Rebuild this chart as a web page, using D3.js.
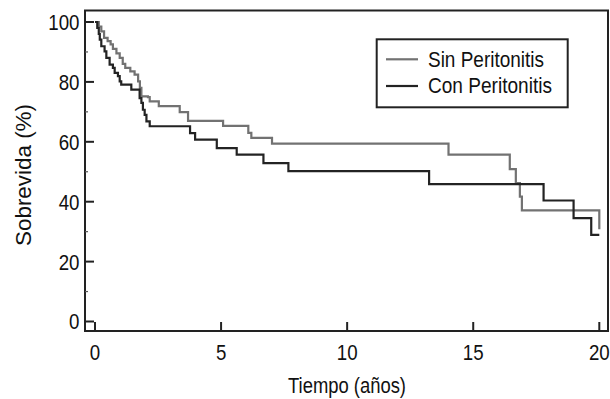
<!DOCTYPE html>
<html>
<head>
<meta charset="utf-8">
<script src="https://cdn.jsdelivr.net/npm/d3@7"></script>
<style>
  body { margin: 0; background: #fff; }
  text { font-family: "Liberation Sans Narrow", "Arial Narrow", "Liberation Sans", sans-serif; fill: #111; }
</style>
</head>
<body>
<div id="chart"></div>
<script>
// Kaplan-Meier steps (time in years, survival %)
const sinTimes = [0, 0.15, 0.25, 0.36, 0.5, 0.62, 0.71, 0.85, 0.98, 1.1, 1.2, 1.4, 1.57, 1.71, 1.78, 1.84, 2.1, 2.17, 2.53, 3.36, 3.69, 5.08, 6.08, 6.2, 7.02, 14.02, 16.45, 16.69, 16.85, 16.93, 20.0];
const sinSurv  = [100, 98.5, 96.9, 94.7, 93.6, 92.5, 91, 89.5, 88, 86, 84.7, 83.5, 82.4, 80.2, 78, 75.2, 74.9, 73.5, 71.9, 69.9, 67, 65.3, 63, 61.3, 59.4, 55.7, 50.9, 46.2, 41.7, 37.1, 30.8];
const conTimes = [0, 0.09, 0.15, 0.19, 0.25, 0.38, 0.45, 0.58, 0.71, 0.78, 0.91, 0.98, 1.04, 1.44, 1.77, 1.84, 1.9, 1.97, 2.04, 2.17, 3.77, 3.97, 4.83, 5.62, 6.68, 7.67, 13.25, 17.79, 18.98, 19.68, 20.0];
const conSurv  = [100, 98, 96, 94.1, 91.9, 90.2, 88, 85.8, 84.7, 83, 81.9, 80.2, 79.1, 77.4, 74.6, 73, 70.7, 69, 66.8, 65.2, 62.9, 60.7, 57.9, 55.7, 52.9, 50.2, 45.9, 40.4, 34.5, 28.9, 28.9];

const seriesNames = ['Sin Peritonitis', 'Con Peritonitis'];
const seriesColors = ['#727272', '#232323'];
const xTicks = [0, 5, 10, 15, 20];
const yTicks = [0, 20, 40, 60, 80, 100];
const yMinorTicks = [10, 30, 50, 70, 90];

const width = 610, height = 399;
const frame = { left: 85, right: 608, top: 10.5, bottom: 331 };
const squeeze = 0.85; // the original font is a narrow sans

const svg = d3.select('#chart').append('svg')
    .attr('width', width)
    .attr('height', height);

const x = d3.scaleLinear().domain([0, 20]).range([95, 599.3]);
const y = d3.scaleLinear().domain([0, 100]).range([321.5, 22]);

const toPoints = (ts, vs) => ts.map((t, i) => ({ t: t, v: vs[i] }));
const series = [toPoints(sinTimes, sinSurv), toPoints(conTimes, conSurv)];

const line = d3.line()
    .x(d => x(d.t))
    .y(d => y(d.v))
    .curve(d3.curveStepAfter);

svg.selectAll('.km')
    .data(series)
    .enter()
    .append('path')
    .attr('class', 'km')
    .attr('d', line)
    .attr('fill', 'none')
    .attr('stroke', (d, i) => seriesColors[i])
    .attr('stroke-width', 2.2);

// frame
svg.append('rect')
    .attr('x', frame.left)
    .attr('y', frame.top)
    .attr('width', frame.right - frame.left)
    .attr('height', frame.bottom - frame.top)
    .attr('fill', 'none')
    .attr('stroke', '#222')
    .attr('stroke-width', 2);

// ticks point inward
svg.selectAll('.ytick')
    .data(yTicks)
    .enter()
    .append('line')
    .attr('x1', frame.left).attr('x2', frame.left + 9)
    .attr('y1', d => y(d)).attr('y2', d => y(d))
    .attr('stroke', '#222').attr('stroke-width', 2);

svg.selectAll('.yminor')
    .data(yMinorTicks)
    .enter()
    .append('line')
    .attr('x1', frame.left).attr('x2', frame.left + 3)
    .attr('y1', d => y(d)).attr('y2', d => y(d))
    .attr('stroke', '#555').attr('stroke-width', 1.2);

svg.selectAll('.xtick')
    .data(xTicks)
    .enter()
    .append('line')
    .attr('x1', d => x(d)).attr('x2', d => x(d))
    .attr('y1', frame.bottom).attr('y2', frame.bottom - 9)
    .attr('stroke', '#222').attr('stroke-width', 2);

svg.selectAll('.ylabel')
    .data(yTicks)
    .enter()
    .append('text')
    .attr('transform', d => `translate(79.5,${y(d)}) scale(${squeeze},1)`)
    .attr('dy', '0.36em')
    .attr('text-anchor', 'end')
    .style('font-size', '22px')
    .text(d => d);

svg.selectAll('.xlabel')
    .data(xTicks)
    .enter()
    .append('text')
    .attr('transform', d => `translate(${x(d)},360) scale(${squeeze},1)`)
    .attr('text-anchor', 'middle')
    .style('font-size', '22px')
    .text(d => d);

svg.append('text')
    .attr('x', 347)
    .attr('y', 393)
    .attr('text-anchor', 'middle')
    .attr('textLength', 118)
    .attr('lengthAdjust', 'spacingAndGlyphs')
    .style('font-size', '22px')
    .text('Tiempo (años)');

svg.append('text')
    .attr('transform', 'translate(31,175) rotate(-90)')
    .attr('text-anchor', 'middle')
    .attr('textLength', 142)
    .attr('lengthAdjust', 'spacingAndGlyphs')
    .style('font-size', '22px')
    .text('Sobrevida (%)');

// legend
const legend = svg.append('g');
legend.append('rect')
    .attr('x', 376.7).attr('y', 39.3)
    .attr('width', 191).attr('height', 68)
    .attr('fill', '#fff')
    .attr('stroke', '#222')
    .attr('stroke-width', 2);

const rowY = [59.3, 86];
const rows = legend.selectAll('.row')
    .data(seriesNames)
    .enter()
    .append('g')
    .attr('transform', (d, i) => `translate(0,${rowY[i]})`);

rows.append('line')
    .attr('x1', 386).attr('x2', 418)
    .attr('stroke', (d, i) => seriesColors[i])
    .attr('stroke-width', 2.2);

rows.append('text')
    .attr('x', 428)
    .attr('y', 7.2)
    .attr('textLength', (d, i) => i === 0 ? 116 : 124)
    .attr('lengthAdjust', 'spacingAndGlyphs')
    .style('font-size', '22px')
    .text(d => d);
</script>
</body>
</html>
